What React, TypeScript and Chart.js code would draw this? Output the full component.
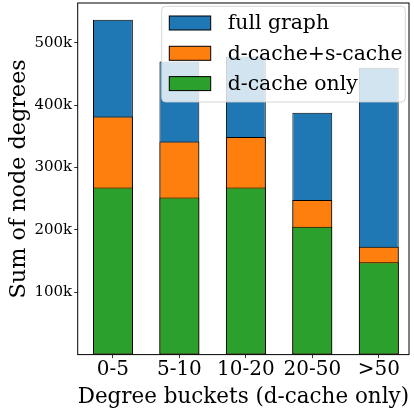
import React, { useEffect, useRef } from 'react';
import { Chart, registerables } from 'chart.js';

Chart.register(...registerables);

const categories = ['0-5', '5-10', '10-20', '20-50', '>50'];
const fullGraph = [537000, 470000, 478000, 388000, 460000];
const dsCache = [382000, 342000, 349000, 248000, 173000];
const dOnly = [268000, 252000, 268000, 205000, 148000];
const yTicks = [100000, 200000, 300000, 400000, 500000];
const seriesNames = ['full graph', 'd-cache+s-cache', 'd-cache only'];
const seriesColors = ['#1f77b4', '#ff7f0e', '#2ca02c'];

const FONT = '"DejaVu Serif", serif';

function roundRectPath(ctx: CanvasRenderingContext2D, x: number, y: number, w: number, h: number, r: number) {
  ctx.beginPath();
  ctx.moveTo(x + r, y);
  ctx.lineTo(x + w - r, y);
  ctx.arcTo(x + w, y, x + w, y + r, r);
  ctx.lineTo(x + w, y + h - r);
  ctx.arcTo(x + w, y + h, x + w - r, y + h, r);
  ctx.lineTo(x + r, y + h);
  ctx.arcTo(x, y + h, x, y + h - r, r);
  ctx.lineTo(x, y + r);
  ctx.arcTo(x, y, x + r, y, r);
  ctx.closePath();
}

const framePlugin = {
  id: 'frameAndLegend',
  afterDraw(chart: any) {
    const { ctx, chartArea: a } = chart;
    ctx.save();
    // axes frame
    ctx.strokeStyle = '#000';
    ctx.lineWidth = 1;
    ctx.strokeRect(a.left, a.top, a.right - a.left, a.bottom - a.top);

    // legend
    const boxRight = a.right - 3.7;
    const boxTop = a.top + 3.3;
    const boxW = 243.6;
    const boxH = 95.7;
    const boxLeft = boxRight - boxW;
    roundRectPath(ctx, boxLeft, boxTop, boxW, boxH, 4);
    ctx.fillStyle = 'rgba(255,255,255,0.8)';
    ctx.fill();
    ctx.strokeStyle = 'rgba(204,204,204,0.8)';
    ctx.lineWidth = 1;
    ctx.stroke();

    ctx.font = `20.4px ${FONT}`;
    ctx.textAlign = 'left';
    ctx.textBaseline = 'alphabetic';
    for (let i = 0; i < seriesNames.length; i++) {
      const hy = boxTop + 9.7 + i * 30.3;
      const hx = boxLeft + 7.6;
      ctx.fillStyle = seriesColors[i];
      ctx.fillRect(hx, hy, 41.4, 14);
      ctx.strokeStyle = '#000';
      ctx.lineWidth = 1;
      ctx.strokeRect(hx, hy, 41.4, 14);
      ctx.fillStyle = '#000';
      ctx.fillText(seriesNames[i], boxLeft + 66, hy + 13.3);
    }
    ctx.restore();
  },
};

export default function App() {
  const ref = useRef<HTMLCanvasElement | null>(null);

  useEffect(() => {
    if (!ref.current) return;
    const series = [fullGraph, dsCache, dOnly];
    const chart = new Chart(ref.current, {
      type: 'bar',
      data: {
        datasets: series.map((vals, si) => ({
          label: seriesNames[si],
          data: vals.map((y, i) => ({ x: i, y })),
          backgroundColor: seriesColors[si],
          borderColor: '#000',
          borderWidth: 1,
          borderSkipped: false,
          grouped: false,
          barPercentage: 0.6,
          categoryPercentage: 1,
          order: 3 - si,
        })),
      },
      options: {
        animation: false,
        responsive: false,
        events: [],
        layout: { padding: { left: 0, top: 3, right: 5, bottom: 0 } },
        plugins: { legend: { display: false }, tooltip: { enabled: false } },
        scales: {
          x: {
            type: 'linear',
            min: -0.53,
            max: 4.455,
            offset: false,
            afterBuildTicks: (s: any) => {
              s.ticks = categories.map((_, i) => ({ value: i }));
            },
            afterFit: (s: any) => {
              s.height = 53.4;
              s.paddingLeft = 0;
              s.paddingRight = 0;
            },
            ticks: {
              autoSkip: false,
              maxRotation: 0,
              padding: 0,
              color: '#000',
              font: { family: FONT, size: 20 },
              callback: (v: any) => categories[v] ?? '',
            },
            grid: { drawOnChartArea: false, offset: false, tickLength: 3.5, color: '#333' },
            border: { display: false },
            title: {
              display: true,
              text: 'Degree buckets (d-cache only)',
              color: '#000',
              font: { family: FONT, size: 22, lineHeight: 1.0 },
              padding: { top: 0, bottom: 0 },
            },
          },
          y: {
            type: 'linear',
            min: 0,
            max: 564000,
            afterBuildTicks: (s: any) => {
              s.ticks = yTicks.map((v) => ({ value: v }));
            },
            afterFit: (s: any) => {
              s.width = 77.7;
              s.paddingTop = 0;
              s.paddingBottom = 0;
            },
            ticks: {
              padding: 2,
              color: '#000',
              font: { family: FONT, size: 15 },
              callback: (v: any) => `${Math.round(v / 1000)}k`,
            },
            grid: { drawOnChartArea: false, tickLength: 3.5, color: '#333' },
            border: { display: false },
            title: {
              display: true,
              text: 'Sum of node degrees',
              color: '#000',
              font: { family: FONT, size: 22.3, lineHeight: 1.2 },
              padding: { top: 5.6, bottom: 0 },
            },
          },
        },
      },
      plugins: [framePlugin],
    });
    return () => chart.destroy();
  }, []);

  return (
    <div style={{ position: 'absolute', left: 0, top: 0, width: 414, height: 408 }}>
      <canvas ref={ref} width={414} height={408} />
    </div>
  );
}
